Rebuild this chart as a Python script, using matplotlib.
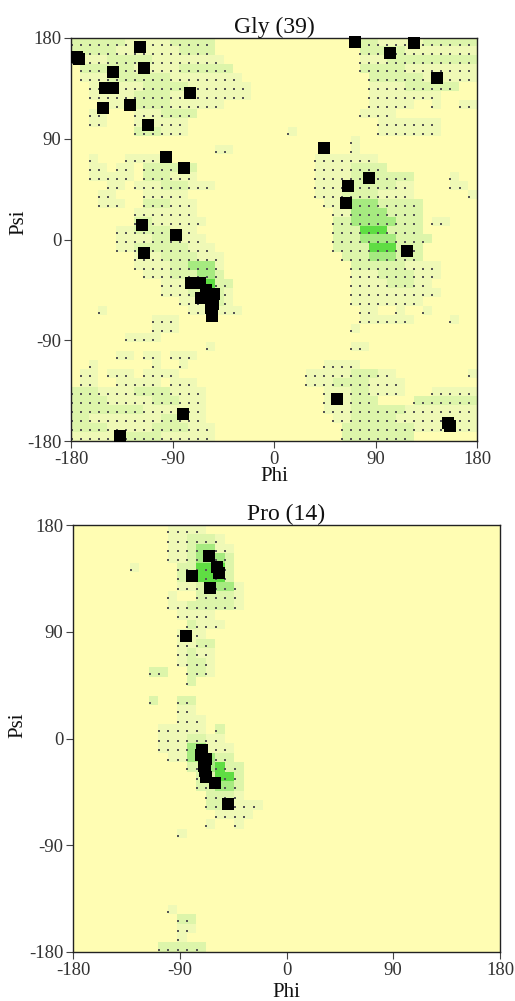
import numpy as np
import matplotlib
matplotlib.use("Agg")
import matplotlib.pyplot as plt
from matplotlib.colors import ListedColormap

plt.rcParams['font.family'] = ['Liberation Serif', 'DejaVu Serif']

# ---------------- data ----------------
TICKS = [-180, -90, 0, 90, 180]
NCELL = 45          # 8-degree density cells
TITLES = ["Gly (39)", "Pro (14)"]

# residues (phi, psi)
GLY_PHI = [-174.7, -173.0, -118.8, -143.0, -115.3, -149.6, -143.0, -151.3, -127.4, -112.0,
           -74.5, -95.8, -80.1, -117.3, -86.6, -115.3, -73.6, -65.3, -64.7, -53.5,
           -54.4, -55.8, -55.3, -60.0, -56.0, -81.0, -136.5, 72.1, 123.9, 102.6,
           144.9, 44.0, 84.6, 65.3, 63.6, 118.3, 56.2, 154.3, 156.4]
GLY_PSI = [162.8, 161.0, 171.7, 149.4, 153.3, 134.9, 135.4, 117.3, 120.0, 101.9,
           131.0, 73.4, 63.9, 12.8, 3.6, -12.5, -38.6, -39.2, -52.3, -48.7,
           -57.6, -61.2, -68.0, -45.0, -55.0, -156.2, -175.8, 176.4, 175.8, 166.3,
           144.1, 81.7, 55.0, 47.8, 32.7, -10.4, -142.2, -163.9, -166.9]

PRO_PHI = [-65.0, -58.9, -56.6, -79.9, -64.2, -84.7, -71.2, -72.0, -67.8, -69.2,
           -68.4, -67.8, -60.0, -49.6]
PRO_PSI = [154.2, 145.0, 139.3, 137.4, 126.7, 86.6, -10.1, -13.5, -17.7, -23.3,
           -27.5, -32.5, -37.3, -55.5]

# reference density, one entry per 8-degree psi row (top row first):
# runs of (first phi cell, last phi cell, level)
GLY_DENSITY = [
    [(0, 5, 2), (6, 10, 1), (11, 15, 2), (31, 33, 2), (34, 38, 1), (39, 44, 2)],
    [(0, 4, 2), (5, 11, 1), (12, 15, 2), (32, 36, 2), (37, 44, 1)],
    [(0, 3, 1), (4, 8, 2), (9, 16, 1), (32, 34, 1), (35, 44, 2)],
    [(1, 6, 2), (7, 11, 1), (12, 17, 2), (32, 36, 2), (37, 44, 1)],
    [(1, 3, 1), (4, 10, 2), (11, 18, 1), (33, 38, 2), (39, 44, 1)],
    [(2, 7, 1), (8, 12, 2), (13, 19, 1), (33, 36, 1), (37, 42, 2)],
    [(2, 6, 1), (7, 10, 2), (11, 19, 1), (33, 40, 1)],
    [(3, 5, 1), (7, 10, 2), (11, 16, 1), (33, 37, 1), (40, 40, 1), (43, 44, 1)],
    [(2, 3, 1), (7, 9, 1), (10, 13, 2), (32, 35, 1)],
    [(2, 3, 1), (7, 12, 1), (34, 40, 1)],
    [(7, 9, 2), (10, 12, 1), (24, 24, 1), (34, 40, 1)],
    [(31, 31, 1)],
    [(16, 17, 1), (31, 31, 1)],
    [(2, 2, 1), (6, 9, 1), (27, 33, 1)],
    [(2, 3, 1), (5, 6, 1), (8, 13, 2), (27, 30, 1), (31, 34, 2)],
    [(2, 6, 1), (8, 10, 2), (11, 13, 1), (27, 30, 1), (31, 37, 2), (42, 42, 1)],
    [(4, 5, 1), (7, 9, 1), (10, 12, 2), (13, 15, 1), (27, 29, 1), (30, 35, 2), (36, 37, 1), (42, 43, 1)],
    [(3, 4, 1), (8, 12, 1), (27, 29, 1), (30, 33, 2), (34, 37, 1), (44, 44, 1)],
    [(3, 5, 1), (8, 10, 2), (11, 13, 1), (28, 30, 1), (31, 33, 3), (34, 38, 2)],
    [(7, 13, 1), (29, 30, 1), (31, 34, 3), (35, 38, 2)],
    [(7, 8, 2), (9, 14, 1), (29, 30, 2), (31, 35, 3), (36, 38, 2), (40, 41, 1)],
    [(5, 6, 1), (7, 10, 2), (11, 13, 1), (29, 31, 2), (32, 34, 4), (35, 38, 2)],
    [(5, 8, 1), (9, 11, 2), (12, 14, 1), (29, 31, 2), (32, 35, 3), (36, 39, 2)],
    [(5, 6, 1), (7, 12, 2), (13, 15, 1), (29, 32, 2), (33, 35, 4), (36, 38, 2)],
    [(7, 9, 1), (10, 13, 2), (14, 16, 1), (30, 32, 2), (33, 35, 3), (36, 38, 2)],
    [(7, 10, 1), (11, 12, 2), (13, 15, 3), (16, 16, 1), (31, 36, 2), (37, 40, 1)],
    [(8, 10, 1), (11, 13, 2), (14, 15, 3), (16, 16, 2), (31, 33, 1), (34, 37, 2), (38, 40, 1)],
    [(10, 12, 1), (13, 14, 3), (15, 15, 4), (16, 17, 2), (31, 34, 1), (35, 37, 2), (38, 39, 1)],
    [(10, 12, 1), (13, 16, 2), (17, 17, 1), (31, 40, 1)],
    [(12, 14, 1), (15, 16, 2), (17, 17, 1), (31, 38, 1)],
    [(3, 3, 1), (13, 18, 1), (32, 33, 1), (36, 36, 1), (39, 39, 1)],
    [(9, 11, 1), (32, 37, 1), (42, 42, 1)],
    [(9, 11, 1), (31, 31, 1)],
    [(6, 9, 1)],
    [(15, 15, 1), (31, 32, 1)],
    [(5, 6, 1), (8, 9, 1), (11, 13, 1)],
    [(2, 2, 1), (9, 9, 1), (12, 12, 1), (28, 31, 1)],
    [(1, 2, 1), (4, 6, 1), (8, 11, 1), (26, 30, 1), (31, 33, 2), (34, 35, 1), (44, 44, 1)],
    [(1, 2, 1), (5, 9, 1), (11, 13, 1), (26, 28, 1), (29, 32, 2), (33, 36, 1)],
    [(0, 2, 2), (3, 6, 1), (7, 10, 2), (11, 14, 1), (28, 30, 1), (31, 32, 2), (33, 36, 1), (40, 44, 1)],
    [(0, 3, 2), (4, 8, 1), (9, 11, 2), (12, 14, 1), (28, 30, 1), (31, 33, 2), (38, 44, 2)],
    [(0, 2, 2), (3, 7, 2), (8, 11, 1), (12, 14, 1), (28, 30, 1), (31, 36, 2), (37, 44, 1)],
    [(0, 1, 2), (2, 9, 1), (10, 11, 2), (12, 14, 1), (29, 30, 1), (31, 35, 2), (36, 44, 1)],
    [(0, 3, 2), (4, 8, 1), (9, 12, 2), (13, 15, 1), (30, 37, 2), (38, 44, 1)],
    [(0, 4, 1), (5, 9, 2), (10, 15, 1), (30, 37, 2)],
]

PRO_DENSITY = [
    [(10, 13, 1)],
    [(10, 11, 1), (12, 14, 2), (15, 15, 1)],
    [(10, 11, 1), (12, 12, 2), (13, 14, 3), (15, 16, 1)],
    [(10, 11, 1), (12, 12, 2), (13, 15, 3), (16, 16, 2)],
    [(6, 6, 1), (11, 12, 2), (13, 15, 4), (16, 16, 2)],
    [(11, 12, 2), (13, 15, 4), (16, 16, 2)],
    [(11, 12, 1), (13, 13, 2), (14, 16, 3), (17, 17, 1)],
    [(10, 10, 1), (13, 13, 2), (14, 16, 2), (17, 17, 1)],
    [(10, 11, 1), (12, 13, 2), (14, 16, 2), (17, 17, 1)],
    [(11, 11, 1), (12, 14, 1)],
    [(12, 12, 2), (13, 15, 1)],
    [(11, 13, 1)],
    [(11, 12, 1), (13, 14, 2)],
    [(11, 11, 1), (12, 12, 2), (13, 14, 1)],
    [(11, 11, 1), (12, 13, 2), (14, 14, 1)],
    [(8, 9, 2), (12, 13, 2), (14, 14, 1)],
    [(12, 12, 2)],
    [],
    [(8, 8, 2), (11, 12, 2)],
    [(11, 12, 1)],
    [(11, 13, 1)],
    [(9, 10, 1), (11, 13, 1), (15, 15, 2)],
    [(9, 11, 1), (12, 13, 2), (14, 15, 1)],
    [(9, 11, 1), (12, 13, 3), (14, 16, 1)],
    [(10, 11, 1), (12, 14, 3), (15, 16, 2)],
    [(12, 13, 2), (14, 14, 3), (15, 15, 4), (16, 17, 2)],
    [(13, 14, 2), (15, 16, 4), (17, 17, 2)],
    [(13, 14, 2), (15, 16, 3), (17, 17, 2)],
    [(14, 16, 2), (17, 17, 1)],
    [(14, 16, 2), (17, 19, 1)],
    [(15, 18, 1)],
    [(14, 14, 1), (17, 17, 1)],
    [(11, 11, 1)],
    [], [], [], [], [], [], [],
    [(10, 10, 1)],
    [(11, 12, 2)],
    [(11, 12, 1)],
    [(11, 11, 1)],
    [(9, 13, 2)],
]

# ---------------- style ----------------
BG = "#FFFDB3"
LEVEL_COLORS = [BG, "#EFF9B6", "#DDF5AA", "#A6EA80", "#5FDD43"]


def grid_from_runs(rows):
    g = np.zeros((NCELL, NCELL), dtype=int)
    for r, runs in enumerate(rows):
        for c0, c1, lv in runs:
            g[r, c0:c1 + 1] = lv
    return g


fig = plt.figure(figsize=(5.15, 10.01), dpi=100)

panels = [
    dict(rect=[71 / 515, 1 - 441 / 1001, 406 / 515, 403 / 1001],
         dens=GLY_DENSITY, phi=GLY_PHI, psi=GLY_PSI, title=TITLES[0],
         ylab=(-0.129, 0.543), xlab=(0.5, -0.088)),
    dict(rect=[73 / 515, 1 - 952 / 1001, 427 / 515, 427 / 1001],
         dens=PRO_DENSITY, phi=PRO_PHI, psi=PRO_PSI, title=TITLES[1],
         ylab=(-0.128, 0.532), xlab=(0.5, -0.096)),
]

cmap = ListedColormap(LEVEL_COLORS)
step = 360 / NCELL

for p in panels:
    ax = fig.add_axes(p["rect"])
    g = grid_from_runs(p["dens"])
    ax.imshow(g, cmap=cmap, vmin=-0.5, vmax=len(LEVEL_COLORS) - 0.5,
              extent=[-180, 180, -180, 180], origin="upper",
              interpolation="nearest", aspect="auto", zorder=0)
    # small dots marking allowed cells
    rr, cc = np.nonzero(g)
    ax.scatter(-180 + cc * step + 0.5, 180 - rr * step - 0.74 * step,
               s=0.6, c="#555555", marker="s", linewidths=0, zorder=1)
    # residues
    ax.scatter(p["phi"], p["psi"], s=64, c="black", marker="s",
               linewidths=0, zorder=3, clip_on=False)

    ax.set_xlim(-180, 180)
    ax.set_ylim(-180, 180)
    ax.set_xticks(TICKS)
    ax.set_yticks(TICKS)
    ax.set_xticklabels([str(t) for t in TICKS])
    ax.set_yticklabels([str(t) for t in TICKS])
    ax.tick_params(direction="out", length=5, width=0.8, color="#444444",
                   labelsize=13.5, labelcolor="#333333", pad=2)
    for s in ax.spines.values():
        s.set_linewidth(1.0)
        s.set_color("#222222")
    ax.set_title(p["title"], fontsize=17, pad=3, color="#111111")
    ax.set_xlabel("Phi", fontsize=15, color="#111111")
    ax.set_ylabel("Psi", fontsize=15, color="#111111")
    ax.xaxis.label.set_va("center")
    ax.yaxis.label.set_va("center")
    ax.xaxis.set_label_coords(*p["xlab"])
    ax.yaxis.set_label_coords(*p["ylab"])

fig.savefig("out.png", dpi=100)
